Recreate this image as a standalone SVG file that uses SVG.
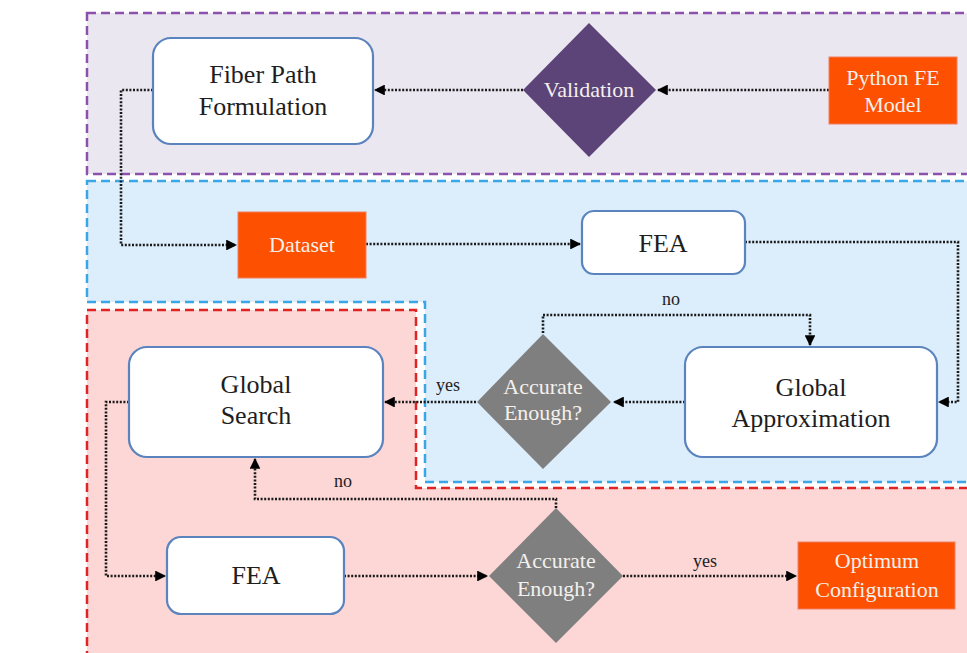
<svg xmlns="http://www.w3.org/2000/svg" width="967" height="653" viewBox="0 0 967 653">
<style>
.region{stroke-width:2.5;stroke-dasharray:9 5}
.rnode{fill:#ffffff;stroke:#5b84bf;stroke-width:2.2}
.onode{fill:#fd5000;stroke:#f08060;stroke-width:1}
.conn{fill:none;stroke:#1a1a1a;stroke-width:2.6;stroke-dasharray:2 1.6}
.dark{font-family:"Liberation Serif","Times New Roman",serif;fill:#1e1e1e;text-anchor:middle}
.light{font-family:"Liberation Serif","Times New Roman",serif;fill:#f4f0ec;text-anchor:middle}
.lbl{font-family:"Liberation Serif","Times New Roman",serif;fill:#222;font-size:18px;text-anchor:middle}
</style>
<defs>
<marker id="arr" viewBox="0 0 10 10" refX="9" refY="5" markerWidth="4.2" markerHeight="4.2" orient="auto" markerUnits="strokeWidth">
<path d="M0,0 L10,5 L0,10 Z" fill="#000"/>
</marker>
</defs>
<rect width="967" height="653" fill="#ffffff"/>
<g id="regions">
<rect id="region-purple" class="region" x="87" y="13" width="900" height="161" fill="#ebe7f1" stroke="#8a52ad"/>
<path id="region-blue" class="region" d="M87,181 H985 V482 H425 V302 H87 Z" fill="#dcedfb" stroke="#3aa6e6"/>
<path id="region-red" class="region" d="M87,310 H416 V488 H985 V665 H87 Z" fill="#fdd6d6" stroke="#e02424"/>
</g>
<g id="connectors">
<path class="conn" d="M829,90 H658" marker-end="url(#arr)"/>
<path class="conn" d="M523,90 H375" marker-end="url(#arr)"/>
<path class="conn" d="M153,90 H121 V245 H236" marker-end="url(#arr)"/>
<path class="conn" d="M366,244 H580" marker-end="url(#arr)"/>
<path class="conn" d="M745,242 H958 V402 H939" marker-end="url(#arr)"/>
<path class="conn" d="M685,402 H614" marker-end="url(#arr)"/>
<path class="conn" d="M543,333 V315 H810 V345" marker-end="url(#arr)"/>
<path class="conn" d="M476,402 H385" marker-end="url(#arr)"/>
<path class="conn" d="M129,402 H106 V576 H165" marker-end="url(#arr)"/>
<path class="conn" d="M344,576 H487" marker-end="url(#arr)"/>
<path class="conn" d="M556,508 V499 H255 V459" marker-end="url(#arr)"/>
<path class="conn" d="M623,576 H796" marker-end="url(#arr)"/>
<text class="lbl" x="671" y="305">no</text>
<text class="lbl" x="448" y="391">yes</text>
<text class="lbl" x="343" y="487">no</text>
<text class="lbl" x="705" y="567">yes</text>
</g>
<g id="fiber-path">
<rect class="rnode" x="153" y="38" width="220" height="106" rx="18"/>
<text class="dark" font-size="26" x="263" y="83">Fiber Path</text>
<text class="dark" font-size="26" x="263" y="115">Formulation</text>
</g>
<g id="validation">
<polygon points="589,23 656,90 589,157 523,90" fill="#5c4479"/>
<text class="light" font-size="22" x="589" y="97">Validation</text>
</g>
<g id="python-fe">
<rect class="onode" x="829" y="57" width="128" height="67"/>
<text class="light" font-size="22" x="893" y="85">Python FE</text>
<text class="light" font-size="22" x="893" y="112">Model</text>
</g>
<g id="dataset">
<rect class="onode" x="238" y="212" width="128" height="66"/>
<text class="light" font-size="22" x="302" y="252">Dataset</text>
</g>
<g id="fea-top">
<rect class="rnode" x="582" y="211" width="163" height="63" rx="12"/>
<text class="dark" font-size="26" x="663" y="252">FEA</text>
</g>
<g id="global-approx">
<rect class="rnode" x="685" y="347" width="252" height="110" rx="18"/>
<text class="dark" font-size="26" x="811" y="396">Global</text>
<text class="dark" font-size="26" x="811" y="427">Approximation</text>
</g>
<g id="accurate-1">
<polygon points="543,334 611,402 543,469 477,402" fill="#7f7f7f"/>
<text class="light" font-size="22" x="543" y="394">Accurate</text>
<text class="light" font-size="22" x="543" y="420">Enough?</text>
</g>
<g id="global-search">
<rect class="rnode" x="129" y="347" width="254" height="110" rx="18"/>
<text class="dark" font-size="26" x="256" y="393">Global</text>
<text class="dark" font-size="26" x="256" y="424">Search</text>
</g>
<g id="fea-bottom">
<rect class="rnode" x="167" y="537" width="177" height="77" rx="14"/>
<text class="dark" font-size="26" x="256" y="584">FEA</text>
</g>
<g id="accurate-2">
<polygon points="556,508 623,576 556,643 489,576" fill="#7f7f7f"/>
<text class="light" font-size="22" x="556" y="568">Accurate</text>
<text class="light" font-size="22" x="556" y="596">Enough?</text>
</g>
<g id="optimum">
<rect class="onode" x="798" y="542" width="157" height="67"/>
<text class="light" font-size="22" x="877" y="568">Optimum</text>
<text class="light" font-size="22" x="877" y="597">Configuration</text>
</g>
</svg>
